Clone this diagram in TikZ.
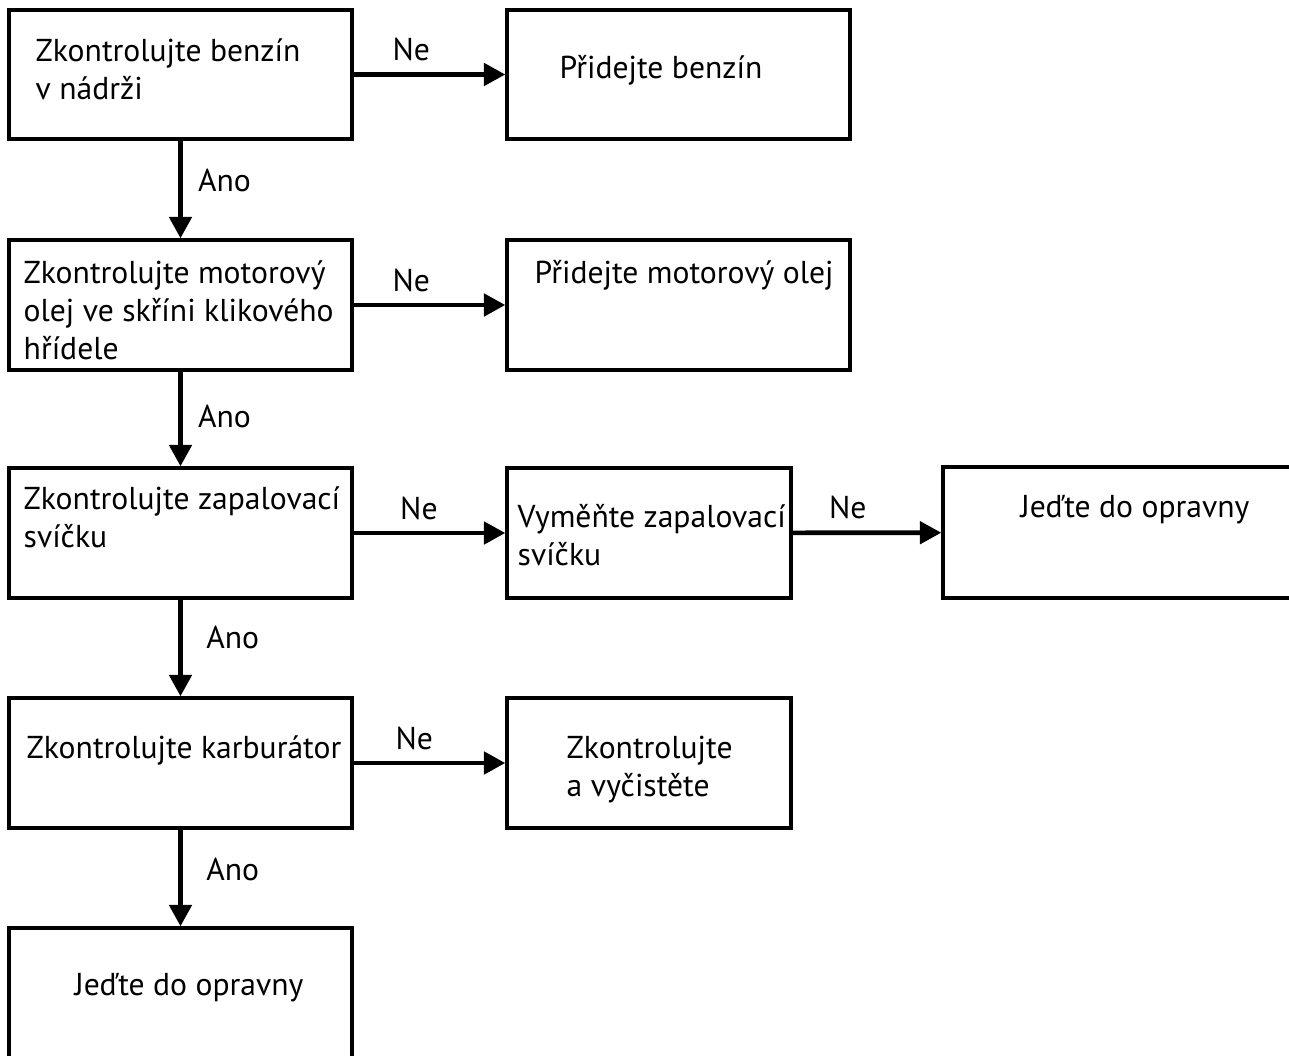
\documentclass[tikz,border=0pt]{standalone}
\usepackage{fontspec}
\setmainfont{PT Sans}
\usepackage{tikz}
\usetikzlibrary{arrows.meta,fit}
\tikzset{every picture/.style={line width=2.9pt}}
\tikzset{
  box/.style={draw, rectangle, inner sep=0pt},
  txt/.style={anchor=base west, align=left, inner sep=0pt, font=\fontsize{27}{32.4}\selectfont},
  lbl/.style={inner sep=2pt, font=\fontsize{27}{32.4}\selectfont},
  go/.style={line width=4pt, -{Triangle[length=0.64cm,width=0.66cm]}}
}

\begin{document}
\begin{tikzpicture}[x=0.03cm,y=-0.03cm]
\path[use as bounding box, fill=white] (0,0) rectangle (1289,1055);
% left column
\node[box, fit={(9,10) (352,139)}] (ben) {};
\node[box, fit={(9,240) (352,370)}] (oil) {};
\node[box, fit={(9,468) (352,598)}] (plug) {};
\node[box, fit={(9,698) (352,828)}] (carb) {};
\node[box, fit={(9,928) (352,1062)}] (shopa) {};
% right side
\node[box, fit={(507,10) (850,139)}] (addben) {};
\node[box, fit={(507,240) (850,370)}] (addoil) {};
\node[box, fit={(507,468) (791,598)}] (newplug) {};
\node[box, fit={(943,467) (1291,598)}] (shopb) {};
\node[box, fit={(507,698) (791,828)}] (clean) {};
% texts (base = last line)
\node[txt] at (34,99) (bentxt) {Zkontrolujte benzín\\v nádrži};
\node[txt] at (22,359) (oiltxt) {Zkontrolujte motorový\\olej ve skříni klikového\\hřídele};
\node[txt] at (22,547) (plugtxt) {Zkontrolujte zapalovací\\svíčku};
\node[txt] at (25,758) (carbtxt) {Zkontrolujte karburátor};
\node[txt] at (73,995) (shopatxt) {Jeďte do opravny};
\node[txt] at (558,78) (addbentxt) {Přidejte benzín};
\node[txt] at (533,283) (addoiltxt) {Přidejte motorový olej};
\node[txt] at (516,565) (newplugtxt) {Vyměňte zapalovací\\svíčku};
\node[txt] at (1019,517) (shopbtxt) {Jeďte do opravny};
\node[txt] at (565,796) (cleantxt) {Zkontrolujte\\a vyčistěte};
% connectors
\path[go] (ben) edge node[lbl, above=7.5pt, pos=0.38] {Ne} (addben)
          (oil) edge node[lbl, above=7.5pt, pos=0.38] {Ne} (addoil)
          (plug) edge node[lbl, above=7.5pt, pos=0.43] {Ne} (newplug)
          (newplug) edge node[lbl, above=7.5pt, pos=0.37] {Ne} (shopb)
          (carb) edge node[lbl, above=7.5pt, pos=0.40] {Ne} (clean);
\path[go] (ben) edge node[lbl, right=11pt, pos=0.41] {Ano} (oil)
          (oil) edge node[lbl, right=11pt, pos=0.47] {Ano} (plug)
          (plug) edge node[lbl, right=18pt, pos=0.39] {Ano} (carb)
          (carb) edge node[lbl, right=18pt, pos=0.41] {Ano} (shopa);
\end{tikzpicture}
\end{document}
